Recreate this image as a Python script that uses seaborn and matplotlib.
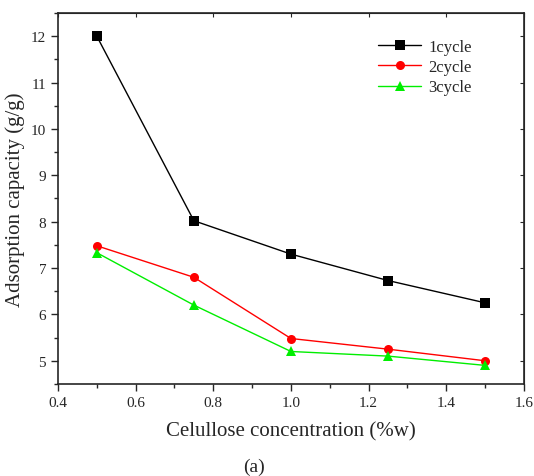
import pandas as pd
import seaborn as sns
import matplotlib.pyplot as plt

# data
concentracao = [0.5, 0.75, 1.0, 1.25, 1.5]
ciclo1 = [12.0, 8.02, 7.3, 6.73, 6.25]
ciclo2 = [7.48, 6.8, 5.48, 5.25, 5.0]
ciclo3 = [7.33, 6.2, 5.2, 5.1, 4.9]
nomes = ['1cycle', '2cycle', '3cycle']

dados = pd.DataFrame({
    'x': concentracao * 3,
    'y': ciclo1 + ciclo2 + ciclo3,
    'serie': [n for n in nomes for _ in concentracao],
})

sns.set_style('ticks')
plt.rcParams['font.family'] = ['Liberation Serif', 'DejaVu Serif']

fig = plt.figure(figsize=(5.34, 4.77), dpi=100)
ax = fig.add_axes([0.1086, 0.193, 0.8725, 0.7776])

cores = {'1cycle': 'black', '2cycle': 'red', '3cycle': '#00ee00'}
marcadores = {'1cycle': 's', '2cycle': 'o', '3cycle': '^'}
sns.lineplot(data=dados, x='x', y='y', hue='serie', style='serie',
             palette=cores, markers=marcadores, dashes=False,
             markersize=6.5, markeredgewidth=0, linewidth=1, ax=ax)

ax.set_xlim(0.4, 1.6)
ax.set_ylim(4.5, 12.5)
ax.set_xticks([0.4, 0.6, 0.8, 1.0, 1.2, 1.4, 1.6])
ax.set_yticks([5, 6, 7, 8, 9, 10, 11, 12])
ax.set_xticks([0.5, 0.7, 0.9, 1.1, 1.3, 1.5], minor=True)
ax.set_yticks([4.5 + i for i in range(9)], minor=True)
ax.tick_params(which='major', length=5, width=1, labelsize=11, direction='out')
ax.tick_params(which='minor', length=3, width=1, direction='out')
ax.set_xticklabels(['0.4', '0.6', '0.8', '1.0', '1.2', '1.4', '1.6'])
for s in ax.spines.values():
    s.set_linewidth(1.2)

# ticks curtos para dentro em cima e a direita
topo = ax.secondary_xaxis('top')
topo.set_xticks(ax.get_xticks())
topo.tick_params(direction='in', length=3, labeltop=False)
direita = ax.secondary_yaxis('right')
direita.set_yticks(ax.get_yticks())
direita.tick_params(direction='in', length=3, labelright=False)

ax.set_xlabel('Celullose concentration (%w)', fontsize=15, labelpad=9)
ax.set_ylabel('Adsorption capacity (g/g)', fontsize=15, labelpad=4)

leg = ax.legend(loc='upper right', bbox_to_anchor=(0.92, 0.97), frameon=False,
                fontsize=12, handlelength=2.6, handletextpad=0.4,
                labelspacing=0.25, title=None)

fig.text(0.476, 0.01, '(a)', fontsize=14, ha='center')

plt.savefig('out.png', dpi=100)
